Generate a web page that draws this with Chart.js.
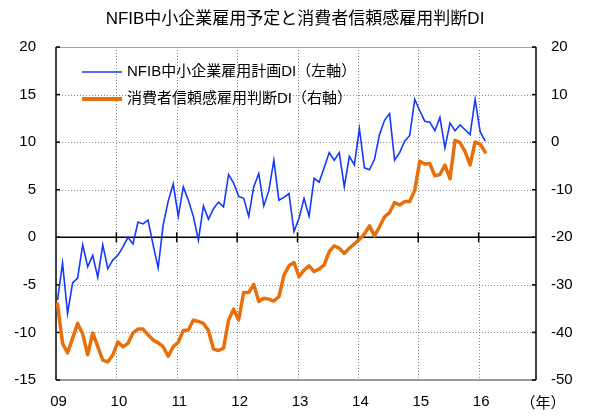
<!DOCTYPE html>
<html>
<head>
<meta charset="utf-8">
<script src="https://cdn.jsdelivr.net/npm/chart.js@4/dist/chart.umd.min.js"></script>
<style>
html,body{margin:0;padding:0;background:#fff;}
#wrap{width:590px;height:419px;position:relative;}
</style>
</head>
<body>
<div id="wrap"><canvas id="c" width="590" height="419"></canvas></div>
<script>
// ---- data ----
const titleText = 'NFIB中小企業雇用予定と消費者信頼感雇用判断DI';
const yearLabels = ['09','10','11','12','13','14','15','16'];
const startYear = 2009;
const months = [];
for (let i = 0; i < 86; i++) {
  months.push((startYear + Math.floor(i / 12)) + '-' + String(i % 12 + 1).padStart(2, '0'));
}
const nfibLabel = 'NFIB中小企業雇用計画DI（左軸）';
const nfib = [
  -6.6,-2.7,-8.0,-4.8,-4.3,-0.8,-3.1,-1.9,-4.2,-0.8,-3.3,-2.4,
  -1.9,-1.0,0.0,-0.7,1.6,1.4,1.8,-0.8,-3.2,1.3,3.8,5.6,
  2.2,5.3,3.9,2.2,-0.3,3.3,1.9,3.0,3.7,3.2,6.6,5.7,
  4.3,4.1,2.2,5.3,6.7,3.3,4.9,8.1,3.9,4.2,4.6,0.6,
  2.0,4.1,2.2,6.2,5.8,7.3,8.9,8.1,8.9,5.3,8.5,7.6,
  11.4,7.3,7.1,8.2,10.8,12.3,13.0,8.1,8.9,10.1,10.7,14.5,
  13.3,12.2,12.1,11.2,12.6,9.4,12.0,11.2,11.8,11.3,10.8,14.5,
  11.1,10.1
];
const confLabel = '消費者信頼感雇用判断DI（右軸）';
const conf = [
  -34.0,-42.3,-44.3,-41.2,-38.1,-40.3,-44.7,-40.1,-43.0,-45.8,-46.2,-44.7,
  -42.0,-43.0,-42.3,-40.1,-39.3,-39.3,-40.5,-41.6,-42.2,-43.0,-45.0,-43.0,
  -42.1,-39.6,-39.5,-37.4,-37.7,-38.1,-39.6,-43.5,-43.8,-43.3,-37.4,-35.1,
  -37.4,-31.6,-31.6,-29.9,-33.5,-32.8,-33.0,-33.4,-32.5,-28.0,-26.0,-25.3,
  -28.3,-26.9,-26.0,-27.2,-26.7,-25.8,-23.0,-21.8,-22.3,-23.4,-22.3,-21.4,
  -20.4,-19.3,-17.6,-19.7,-17.8,-15.7,-14.8,-12.7,-13.2,-12.5,-12.5,-10.1,
  -4.0,-4.6,-4.5,-7.1,-6.8,-4.8,-7.7,0.4,-0.1,-2.0,-4.8,0.0,
  -0.4,-2.1
];
const leftMin = -15, leftMax = 20, leftStep = 5;
const rightMin = -50, rightMax = 20, rightStep = 10;

// ---- styles ----
const FONT = "'Liberation Sans', 'Noto Sans CJK JP', sans-serif";
const BLUE = '#1438ff';
const ORANGE = '#e8700c';
const monthOffset = 0.3;

const toXY = arr => arr.map((v, i) => ({x: i + monthOffset, y: v, m: months[i]}));

const framePlugin = {
  id: 'frame',
  beforeDatasetsDraw(chart) {
    const ctx = chart.ctx;
    const a = chart.chartArea;
    const xs = chart.scales.x, yl = chart.scales.y, yr = chart.scales.y2;
    ctx.save();
    // dotted grid
    ctx.strokeStyle = '#8a8a8a';
    ctx.lineWidth = 1;
    ctx.setLineDash([1, 2]);
    for (let v = leftMin + leftStep; v < leftMax; v += leftStep) {
      if (v === 0) continue;
      const y = Math.round(yl.getPixelForValue(v)) + 0.5;
      ctx.beginPath(); ctx.moveTo(a.left, y); ctx.lineTo(a.right, y); ctx.stroke();
    }
    for (let k = 1; k < yearLabels.length; k++) {
      const x = Math.round(xs.getPixelForValue(k * 12)) + 0.5;
      ctx.beginPath(); ctx.moveTo(x, a.top); ctx.lineTo(x, a.bottom); ctx.stroke();
    }
    ctx.setLineDash([]);
    // top / bottom borders (gray)
    ctx.strokeStyle = '#a0a0a0';
    ctx.lineWidth = 1;
    ctx.beginPath(); ctx.moveTo(a.left, a.top + 0.5); ctx.lineTo(a.right, a.top + 0.5); ctx.stroke();
    ctx.lineWidth = 2;
    ctx.strokeStyle = '#9a9a9a';
    ctx.beginPath(); ctx.moveTo(a.left, a.bottom); ctx.lineTo(a.right, a.bottom); ctx.stroke();
    // axes
    ctx.strokeStyle = '#000';
    ctx.lineWidth = 1.5;
    ctx.beginPath(); ctx.moveTo(a.left, a.top); ctx.lineTo(a.left, a.bottom); ctx.stroke();
    ctx.beginPath(); ctx.moveTo(a.right, a.top); ctx.lineTo(a.right, a.bottom); ctx.stroke();
    const y0 = yl.getPixelForValue(0);
    ctx.beginPath(); ctx.moveTo(a.left, y0); ctx.lineTo(a.right, y0); ctx.stroke();
    // ticks
    ctx.lineWidth = 1.5;
    for (let v = leftMin; v <= leftMax; v += leftStep) {
      const y = yl.getPixelForValue(v);
      ctx.beginPath(); ctx.moveTo(a.left, y); ctx.lineTo(a.left + 4, y); ctx.stroke();
    }
    for (let v = rightMin; v <= rightMax; v += rightStep) {
      const y = yr.getPixelForValue(v);
      ctx.beginPath(); ctx.moveTo(a.right - 4, y); ctx.lineTo(a.right, y); ctx.stroke();
    }
    for (let k = 1; k < yearLabels.length; k++) {
      const x = xs.getPixelForValue(k * 12);
      ctx.beginPath(); ctx.moveTo(x, y0 - 5); ctx.lineTo(x, y0 + 5); ctx.stroke();
    }
    ctx.restore();
  },
  afterDraw(chart) {
    const ctx = chart.ctx;
    ctx.save();
    // title
    ctx.fillStyle = '#000';
    ctx.font = '17px ' + FONT;
    ctx.textAlign = 'center';
    ctx.textBaseline = 'middle';
    ctx.fillText(titleText, 295, 19);
    // legend
    const items = [
      {label: nfibLabel, color: BLUE, w: 1.6, y: 72},
      {label: confLabel, color: ORANGE, w: 4, y: 99}
    ];
    ctx.font = '15px ' + FONT;
    ctx.textAlign = 'left';
    items.forEach(it => {
      ctx.strokeStyle = it.color;
      ctx.lineWidth = it.w;
      ctx.beginPath(); ctx.moveTo(82, it.y); ctx.lineTo(122, it.y); ctx.stroke();
      ctx.fillStyle = '#000';
      ctx.fillText(it.label, 127, it.y);
    });
    // unit
    ctx.font = '15px ' + FONT;
    ctx.textAlign = 'center';
    ctx.fillText('（年）', 543, 404);
    ctx.restore();
  }
};

new Chart(document.getElementById('c'), {
  type: 'line',
  data: {
    datasets: [
      {label: confLabel, data: toXY(conf), yAxisID: 'y2', borderColor: ORANGE, borderWidth: 3.5,
       pointRadius: 0, tension: 0, order: 0, borderJoinStyle: 'round', borderCapStyle: 'round'},
      {label: nfibLabel, data: toXY(nfib), yAxisID: 'y', borderColor: BLUE, borderWidth: 1.6,
       pointRadius: 0, tension: 0, order: 1}
    ]
  },
  options: {
    responsive: false,
    animation: false,
    devicePixelRatio: 1,
    layout: {padding: {top: 47, left: 0, right: 0, bottom: 0}},
    plugins: {legend: {display: false}, title: {display: false}, tooltip: {enabled: false}},
    scales: {
      x: {
        type: 'linear', min: 0, max: 95.4,
        afterBuildTicks: s => { s.ticks = yearLabels.map((_, k) => ({value: k * 12})); },
        afterFit: s => { s.height = 39; },
        grid: {display: false, drawTicks: false},
        border: {display: false},
        ticks: {
          autoSkip: false, maxRotation: 0, padding: 13, labelOffset: 2.5,
          color: '#000', font: {family: FONT, size: 15},
          callback: v => yearLabels[Math.round(v / 12)]
        }
      },
      y: {
        position: 'left', min: leftMin, max: leftMax,
        afterFit: s => { s.width = 56; },
        grid: {display: false, drawTicks: false},
        border: {display: false},
        ticks: {stepSize: leftStep, padding: 20, color: '#000', font: {family: FONT, size: 15}}
      },
      y2: {
        position: 'right', min: rightMin, max: rightMax,
        afterFit: s => { s.width = 54; },
        grid: {display: false, drawTicks: false},
        border: {display: false},
        ticks: {stepSize: rightStep, padding: 15, color: '#000', font: {family: FONT, size: 15}}
      }
    }
  },
  plugins: [framePlugin]
});
</script>
</body>
</html>
